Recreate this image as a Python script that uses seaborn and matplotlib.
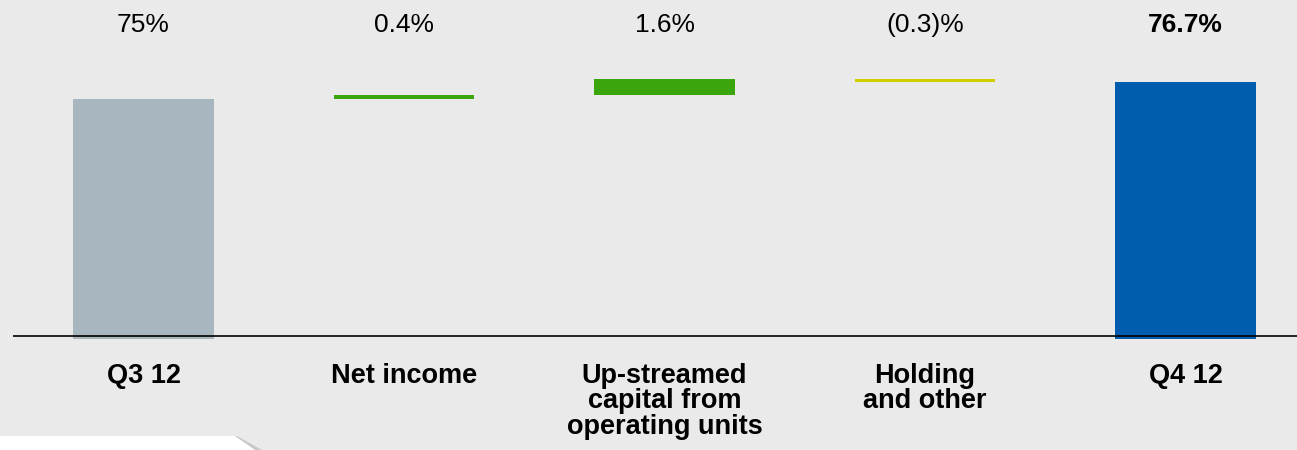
"""Capital ratio walk Q3 12 -> Q4 12 (waterfall)."""

import matplotlib.pyplot as plt
import matplotlib.patches as mpatches
import pandas as pd
import seaborn as sns

categories = ["Q3 12", "Net income", "Up-streamed\ncapital from\noperating units",
              "Holding\nand other", "Q4 12"]
deltas = [75.0, 0.4, 1.6, -0.3, 76.7]
value_labels = ["75%", "0.4%", "1.6%", "(0.3)%", "76.7%"]
bar_colors = ["#a8b6bf", "#3aa50d", "#3aa50d", "#d2cd00", "#005cae"]

# floating bars: start from running total, end bars from zero
bottoms = [0.0]
running = deltas[0]
for d in deltas[1:-1]:
    bottoms.append(running + min(d, 0))
    running += d
bottoms.append(0.0)
heights = [abs(d) for d in deltas]

df = pd.DataFrame({"category": categories, "height": heights})

sns.set_style("white")
plt.rcParams["font.family"] = ["Liberation Sans", "DejaVu Sans"]
bg = "#eaeaea"

fig = plt.figure(figsize=(12.97, 4.5), dpi=100, facecolor=bg)
ax = fig.add_axes([13 / 1297, 111 / 450, 1 - 13 / 1297, 339 / 450])
ax.set_facecolor(bg)

sns.barplot(data=df, x="category", y="height", hue="category", palette=bar_colors,
            legend=False, width=0.541, saturation=1, linewidth=0, ax=ax)
# lift the middle bars onto the running total
for patch, b in zip(ax.patches, bottoms):
    patch.set_y(b)

ax.set_ylim(51, 84.9)
ax.set_xlim(-0.501, 4.428)
ax.axhline(51.35, color="black", lw=1.2)

for s in ax.spines.values():
    s.set_visible(False)
ax.set_yticks([])
ax.set_xlabel("")
ax.set_ylabel("")
ax.tick_params(axis="x", length=0, pad=17, colors="black")
ax.set_xticks(range(len(categories)))
ax.set_xticklabels(categories, fontsize=19.5, fontweight="bold", linespacing=0.98,
                   color="black")

trans = ax.get_xaxis_transform()
for i, lbl in enumerate(value_labels):
    ax.text(i, (339 - 25) / 339, lbl, transform=trans, ha="center", va="center",
            fontsize=19, color="black",
            fontweight="bold" if i == len(value_labels) - 1 else "normal")

# white tab in the lower-left corner of the slide
shadow = mpatches.Polygon([(0, 0), (0, 14 / 450), (237 / 1297, 14 / 450), (262 / 1297, 0)],
                          closed=True, transform=fig.transFigure, facecolor="#c8c8c8",
                          edgecolor="none")
tab = mpatches.Polygon([(0, 0), (0, 14 / 450), (235 / 1297, 14 / 450), (255 / 1297, 0)],
                       closed=True, transform=fig.transFigure, facecolor="white",
                       edgecolor="none")
fig.patches.extend([shadow, tab])

fig.savefig("out.png", dpi=100, facecolor=bg)
